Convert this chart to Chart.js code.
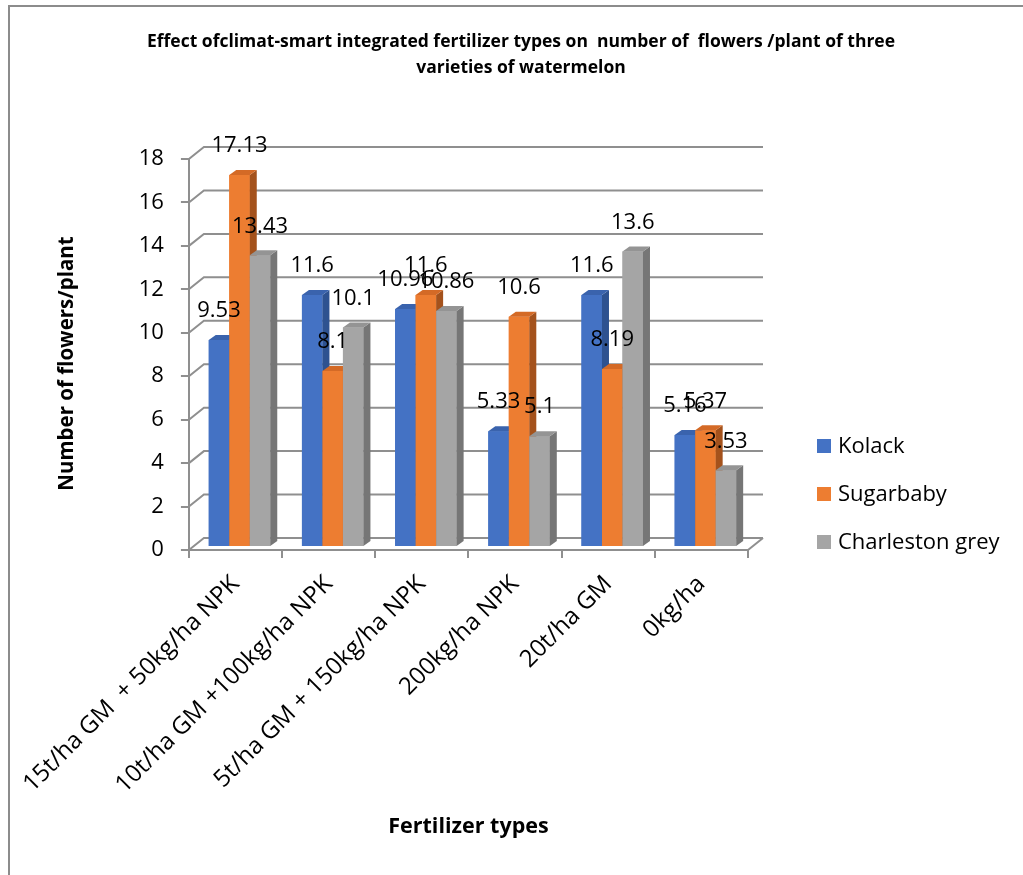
<!DOCTYPE html>
<html>
<head>
<meta charset="utf-8">
<title>Flowers per plant of three watermelon varieties</title>
<script src="https://cdn.jsdelivr.net/npm/chart.js@4.4.1/dist/chart.umd.min.js"></script>
<style>
  html, body { margin: 0; padding: 0; background: #ffffff; }
  #wrap { width: 1023px; height: 875px; position: relative; }
  canvas { display: block; }
</style>
</head>
<body>
<div id="wrap"><canvas id="chart" width="1023" height="875"></canvas></div>
<script>
// Fertilizer treatments (category axis)
const categories = [
  '15t/ha GM  + 50kg/ha NPK',
  '10t/ha GM +100kg/ha NPK',
  '5t/ha GM + 150kg/ha NPK',
  '200kg/ha NPK',
  '20t/ha GM',
  '0kg/ha'
];

// Number of flowers per plant for each variety
const kolack         = [9.53, 11.6, 10.96, 5.33, 11.6, 5.16];
const sugarbaby      = [17.13, 8.1, 11.6, 10.6, 8.19, 5.37];
const charlestonGrey = [13.43, 10.1, 10.86, 5.1, 13.6, 3.53];

const seriesNames = ['Kolack', 'Sugarbaby', 'Charleston grey'];

// Value axis range
const yMin = 0;
const yMax = 18;
const yStep = 2;

const chartTitle = [
  'Effect ofclimat-smart integrated fertilizer types on  number of  flowers /plant of three',
  'varieties of watermelon'
];
const xTitle = 'Fertilizer types';
const yTitle = 'Number of flowers/plant';

// Face colours: front, top, side
const palette = [
  { front: '#4472C4', top: '#3A63AD', side: '#2E5290' },
  { front: '#ED7D31', top: '#D46A26', side: '#A4521C' },
  { front: '#A5A5A5', top: '#949494', side: '#767676' }
];

const FONT = '"Open Sans", "Liberation Sans", sans-serif';
const GRID = '#8F8F8F';

// Pseudo-3D geometry
const barShift = { x: 4, y: -3 };   // bars sit slightly behind the front axis plane
const barDepth = { x: 7, y: -5 };   // bar thickness
const wallDepth = { x: 15, y: -12 }; // back wall / floor depth

const threeD = {
  id: 'threeD',
  beforeDatasetsDraw(chart) {
    const { ctx, chartArea: a, scales: { y } } = chart;
    ctx.save();
    ctx.strokeStyle = GRID;
    ctx.lineWidth = 2;
    // back wall gridlines with connectors to the front axis
    y.ticks.forEach(t => {
      const py = y.getPixelForValue(t.value);
      ctx.beginPath();
      ctx.moveTo(a.left, py);
      ctx.lineTo(a.left + wallDepth.x, py + wallDepth.y);
      ctx.lineTo(a.right + wallDepth.x, py + wallDepth.y);
      ctx.stroke();
    });
    // floor right edge
    const p0 = y.getPixelForValue(0);
    ctx.beginPath();
    ctx.moveTo(a.right, p0);
    ctx.lineTo(a.right + wallDepth.x, p0 + wallDepth.y);
    ctx.stroke();
    ctx.restore();

    ctx.save();
    ctx.translate(barShift.x, barShift.y);
  },
  afterDatasetsDraw(chart) {
    const { ctx } = chart;
    // redraw each series in order with its top and side faces
    chart.data.datasets.forEach((ds, i) => {
      const meta = chart.getDatasetMeta(i);
      const col = palette[i];
      meta.data.forEach(el => {
        const { x, y, base, width } = el.getProps(['x', 'y', 'base', 'width'], true);
        const l = x - width / 2, r = x + width / 2;
        el.draw(ctx);
        ctx.fillStyle = col.side;
        ctx.beginPath();
        ctx.moveTo(r, y);
        ctx.lineTo(r + barDepth.x, y + barDepth.y);
        ctx.lineTo(r + barDepth.x, base + barDepth.y);
        ctx.lineTo(r, base);
        ctx.closePath();
        ctx.fill();
        ctx.fillStyle = col.top;
        ctx.beginPath();
        ctx.moveTo(l, y);
        ctx.lineTo(l + barDepth.x, y + barDepth.y);
        ctx.lineTo(r + barDepth.x, y + barDepth.y);
        ctx.lineTo(r, y);
        ctx.closePath();
        ctx.fill();
      });
    });
    ctx.restore();
  },
  afterDraw(chart) {
    const { ctx, chartArea: a } = chart;
    ctx.save();
    // value labels above bars
    ctx.font = '22px ' + FONT;
    ctx.fillStyle = '#000000';
    ctx.textAlign = 'center';
    ctx.textBaseline = 'middle';
    chart.data.datasets.forEach((ds, i) => {
      const meta = chart.getDatasetMeta(i);
      meta.data.forEach((el, j) => {
        const { x, y } = el.getProps(['x', 'y'], true);
        ctx.fillText(String(ds.data[j]), x + barShift.x, y + barShift.y - 29);
      });
    });

    // chart title
    ctx.font = 'bold 17.5px ' + FONT;
    ctx.fillText(chartTitle[0], 521, 42);
    ctx.fillText(chartTitle[1], 521, 68);

    // value axis title
    ctx.save();
    ctx.translate(67, (a.top + a.bottom) / 2 + 9);
    ctx.rotate(-Math.PI / 2);
    ctx.font = 'bold 20.5px ' + FONT;
    ctx.fillText(yTitle, 0, 0);
    ctx.restore();

    // legend
    ctx.textAlign = 'left';
    ctx.font = '22px ' + FONT;
    chart.data.datasets.forEach((ds, i) => {
      const cy = 446 + i * 48;
      ctx.fillStyle = ds.backgroundColor;
      ctx.fillRect(817, cy - 7, 14, 14);
      ctx.fillStyle = '#000000';
      ctx.fillText(ds.label, 838, cy + 1);
    });

    // outer frame
    ctx.strokeStyle = '#8C8C8C';
    ctx.lineWidth = 2;
    ctx.beginPath();
    ctx.moveTo(9, 880);
    ctx.lineTo(9, 6);
    ctx.lineTo(1030, 6);
    ctx.stroke();
    ctx.restore();
  }
};

const datasets = [kolack, sugarbaby, charlestonGrey].map((values, i) => ({
  label: seriesNames[i],
  data: values,
  backgroundColor: palette[i].front,
  borderWidth: 0,
  barPercentage: 1,
  categoryPercentage: 0.66,
  clip: false
}));

new Chart(document.getElementById('chart'), {
  type: 'bar',
  data: { labels: categories, datasets },
  plugins: [threeD],
  options: {
    responsive: false,
    animation: false,
    devicePixelRatio: 1,
    layout: { padding: { top: 159, right: 275, bottom: 0, left: 50 } },
    plugins: {
      legend: { display: false },
      title: { display: false },
      tooltip: { enabled: false }
    },
    scales: {
      x: {
        afterFit(scale) { scale.height = 325; },
        grid: { display: true, drawOnChartArea: false, drawTicks: true, tickLength: 8, color: GRID, lineWidth: 2, offset: true },
        border: { display: true, color: GRID, width: 2 },
        ticks: {
          autoSkip: false,
          minRotation: 45,
          maxRotation: 45,
          padding: 12,
          color: '#000000',
          font: { family: FONT, size: 24 }
        },
        title: {
          display: true,
          text: xTitle,
          color: '#000000',
          font: { family: FONT, size: 21.5, weight: 'bold' },
          padding: { top: 0, bottom: 35 }
        }
      },
      y: {
        min: yMin,
        max: yMax,
        afterFit(scale) { scale.width = 138; },
        grid: { display: true, drawOnChartArea: false, drawTicks: true, tickLength: 8, color: GRID, lineWidth: 2 },
        border: { display: true, color: GRID, width: 2 },
        ticks: {
          stepSize: yStep,
          padding: 17,
          color: '#000000',
          font: { family: FONT, size: 22 }
        },
        title: { display: false }
      }
    }
  }
});
</script>
</body>
</html>
